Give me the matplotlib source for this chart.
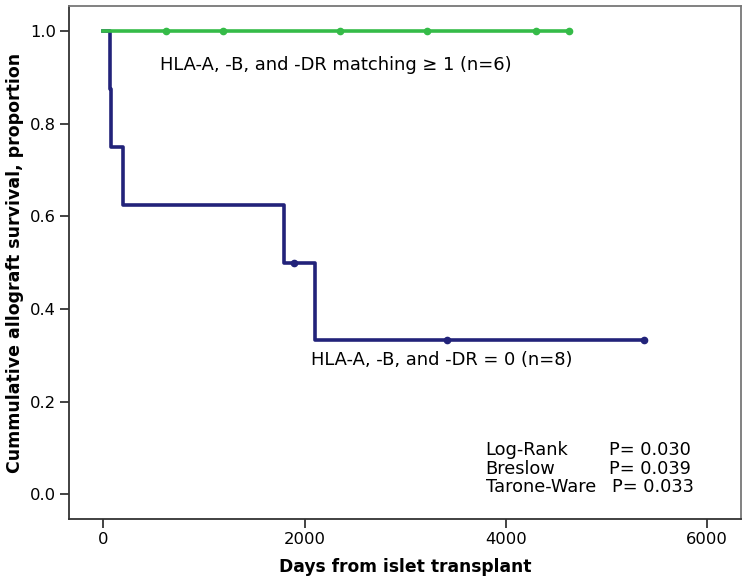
import matplotlib
matplotlib.use("Agg")
import matplotlib.pyplot as plt

# ----------------------------------------
# DATA
# ----------------------------------------
blue_times = [0, 65, 80, 200, 1800, 2100, 5375]
blue_surv = [1.0, 0.875, 0.75, 0.625, 0.5, 0.333, 0.333]
blue_censor_t = [1900, 3420, 5375]
blue_censor_s = [0.5, 0.333, 0.333]

green_times = [0, 4626]
green_surv = [1.0, 1.0]
green_censor_t = [624, 1193, 2353, 3214, 4298, 4626]
green_censor_s = [1.0, 1.0, 1.0, 1.0, 1.0, 1.0]

x_ticks = [0, 2000, 4000, 6000]
y_ticks = [0.0, 0.2, 0.4, 0.6, 0.8, 1.0]

tests = ["Log-Rank", "Breslow", "Tarone-Ware"]
p_values = ["P= 0.030", "P= 0.039", "P= 0.033"]

GREEN = "#35bb48"
BLUE = "#22237a"

# ----------------------------------------
# PLOT
# ----------------------------------------
plt.rcParams["font.family"] = ["DejaVu Sans"]

fig = plt.figure(figsize=(7.47, 5.84), dpi=100)
ax = fig.add_axes([0.0928, 0.111, 0.899, 0.879])

ax.step(blue_times, blue_surv, where="post", color=BLUE, lw=2.6, zorder=2)
ax.plot(blue_censor_t, blue_censor_s, "o", color=BLUE, ms=4.5, zorder=3)

ax.step(green_times, green_surv, where="post", color=GREEN, lw=2.6, zorder=4)
ax.plot(green_censor_t, green_censor_s, "o", color=GREEN, ms=4.5, zorder=5)

ax.set_xlim(-338, 6338)
ax.set_ylim(-0.054, 1.055)
ax.set_xticks(x_ticks)
ax.set_yticks(y_ticks)
ax.set_yticklabels([f"{v:.1f}" for v in y_ticks])
ax.tick_params(axis="both", labelsize=11.8, length=6.5, width=1.2, color="#222222", pad=3)

for side in ["left", "bottom"]:
    ax.spines[side].set_color("#333333")
    ax.spines[side].set_linewidth(1.3)
for side in ["top", "right"]:
    ax.spines[side].set_color("#777777")
    ax.spines[side].set_linewidth(1.3)

ax.set_xlabel("Days from islet transplant", fontsize=12.3, fontweight="bold", labelpad=8)
ax.set_ylabel("Cummulative allograft survival, proportion", fontsize=12.5, fontweight="bold", labelpad=4)

ax.text(564, 0.927, "HLA-A, -B, and -DR matching \u2265 1 (n=6)", fontsize=12.9, va="center", ha="left")
ax.text(2065, 0.289, "HLA-A, -B, and -DR = 0 (n=8)", fontsize=12.9, va="center", ha="left")

line_y = [0.0945, 0.055, 0.0155]
p_x = [5030, 5030, 5060]
for name, p, y, px in zip(tests, p_values, line_y, p_x):
    ax.text(3800, y, name, fontsize=12.8, va="center", ha="left")
    ax.text(px, y, p, fontsize=12.8, va="center", ha="left")

fig.savefig("out.png", dpi=100)
